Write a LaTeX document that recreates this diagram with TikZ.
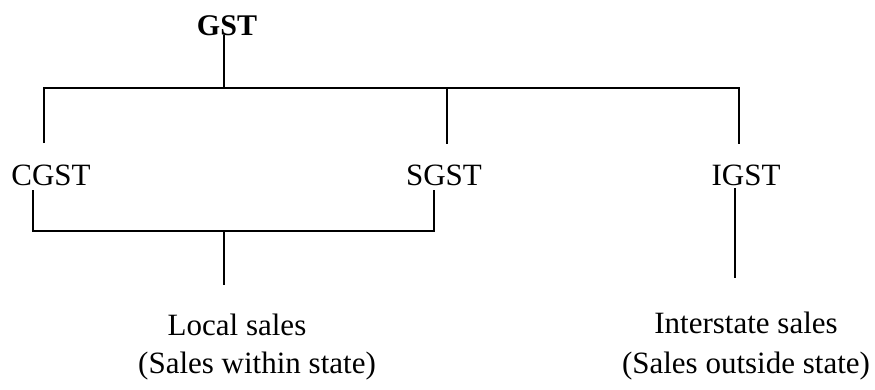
\documentclass[tikz,border=0pt]{standalone}
\usepackage{fontspec}
\setmainfont{Liberation Serif}
\begin{document}
\begin{tikzpicture}[x=1pt,y=-1pt,
  lbl/.style={inner sep=0pt,anchor=base,font=\fontsize{31}{36}\selectfont},
  head/.style={inner sep=0pt,anchor=base,font=\fontsize{30}{36}\selectfont\bfseries},
  conn/.style={line width=1.6pt,line cap=butt,line join=miter}]
\useasboundingbox (0,0) rectangle (875,389);
\node[head] (gst) at (227,35) {GST};
\node[lbl] (cgst) at (51,185) {CGST};
\node[lbl] (sgst) at (444,185) {SGST};
\node[lbl] (igst) at (746,185) {IGST};
\node[lbl] (local) at (237,335) {Local sales};
\node[lbl] (within) at (257,373) {(Sales within state)};
\node[lbl] (inter) at (746,333) {Interstate sales};
\node[lbl] (outside) at (746,373) {(Sales outside state)};
% junction coordinates
\coordinate (gtop) at (224,35);
\coordinate (gj) at (224,88);
\coordinate (tl) at (44,88);
\coordinate (tm) at (447,88);
\coordinate (tr) at (739,88);
\coordinate (ct) at (44,143);
\coordinate (st) at (447,144);
\coordinate (it) at (739,144);
\coordinate (cb) at (33,190);
\coordinate (sb) at (434,190);
\coordinate (bl) at (33,231);
\coordinate (br) at (434,231);
\coordinate (bj) at (224,231);
\coordinate (le) at (224,285);
\coordinate (ib) at (735,188);
\coordinate (ie) at (735,278);
\draw[conn] (gtop) -- (gj);
\draw[conn] (ct) -- (tl) -- (tr) -- (it);
\draw[conn] (tm) -- (st);
\draw[conn] (cb) -- (bl) -- (br) -- (sb);
\draw[conn] (bj) -- (le);
\draw[conn] (ib) -- (ie);
\end{tikzpicture}
\end{document}
